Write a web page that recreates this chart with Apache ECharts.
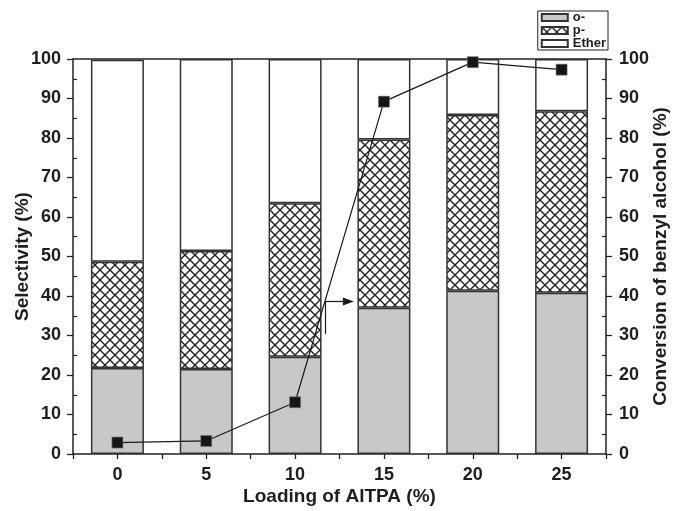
<!DOCTYPE html>
<html>
<head>
<meta charset="utf-8">
<script src="https://cdn.jsdelivr.net/npm/echarts@6/dist/echarts.min.js"></script>
<style>
  html, body { margin: 0; padding: 0; background: #fff; }
  #chart { width: 674px; height: 511px; }
</style>
</head>
<body>
<div id="chart"></div>
<script>
// selectivity by AlTPA loading, stacked o- / p- / ether, plus conversion on right axis
const loading = [0, 5, 10, 15, 20, 25];
const orthoSel = [21.8, 21.5, 24.6, 37.0, 41.3, 40.8];
const paraSel = [26.9, 29.9, 38.9, 42.6, 44.5, 46.0];
const etherSel = [51.1, 48.6, 36.5, 20.4, 14.2, 13.2];
const conversion = [2.9, 3.3, 13.1, 89.2, 99.2, 97.3];

const FONT = '"Liberation Sans", Arial, sans-serif';
const INK = '#1e1e1e';

function hatchCanvas() {
  const s = 10;
  const c = document.createElement('canvas');
  c.width = s;
  c.height = s;
  const g = c.getContext('2d');
  g.fillStyle = '#fff';
  g.fillRect(0, 0, s, s);
  g.strokeStyle = '#222';
  g.lineWidth = 1.4;
  g.beginPath();
  g.moveTo(-1, -1); g.lineTo(s + 1, s + 1);
  g.moveTo(s + 1, -1); g.lineTo(-1, s + 1);
  g.stroke();
  return c;
}

const barBase = {
  type: 'bar',
  stack: 'sel',
  xAxisIndex: 2,
  yAxisIndex: 0,
  barWidth: 53,
  emphasis: { disabled: true },
};

const chart = echarts.init(document.getElementById('chart'), null, { renderer: 'canvas' });

const tickLabel = { fontFamily: FONT, fontWeight: 'bold', fontSize: 18, color: INK };
const nameStyle = { fontFamily: FONT, fontWeight: 'bold', fontSize: 19, color: INK };
const line = { show: true, onZero: false, lineStyle: { color: '#222', width: 1.5 } };
const tick = { show: true, length: 6, lineStyle: { color: '#222', width: 1.3 } };
const innerMinor = (pos) => ({
  type: 'value',
  position: pos,
  min: 0,
  max: 100,
  interval: 10,
  axisLine: { show: false, onZero: false },
  axisTick: { show: false, inside: true },
  minorTick: { show: true, splitNumber: 2, length: 4, lineStyle: { color: '#222', width: 1.2 } },
  axisLabel: { show: false },
  splitLine: { show: false },
});

chart.setOption({
  animation: false,
  backgroundColor: '#fff',
  grid: { left: 73, right: 68, top: 59, bottom: 57, outerBoundsMode: 'none', containLabel: false },
  legend: {
    data: ['o-', 'p-', 'Ether'],
    orient: 'vertical',
    right: 66,
    top: 11,
    icon: 'rect',
    itemWidth: 26,
    itemHeight: 7,
    itemGap: 0,
    padding: [0, 2, 0, 3],
    borderColor: '#222',
    borderWidth: 1,
    textStyle: { fontFamily: FONT, fontWeight: 'bold', fontSize: 13, lineHeight: 12, color: INK },
  },
  xAxis: [
    {
      type: 'value',
      min: -2.5,
      max: 27.5,
      interval: 2.5,
      name: 'Loading of AlTPA (%)',
      nameLocation: 'middle',
      nameMoveOverlap: false,
      nameGap: 33,
      nameTextStyle: nameStyle,
      axisLine: line,
      axisTick: { ...tick, length: 5 },
      axisLabel: {
        ...tickLabel,
        margin: 12,
        formatter: (v) => (v >= 0 && v % 5 === 0 ? String(v) : ''),
      },
      splitLine: { show: false },
    },
    {
      type: 'value',
      position: 'top',
      min: -2.5,
      max: 27.5,
      axisLine: line,
      axisTick: { show: false },
      axisLabel: { show: false },
      splitLine: { show: false },
    },
    {
      type: 'category',
      show: false,
      position: 'bottom',
      data: loading.map(String),
      boundaryGap: true,
    },
  ],
  yAxis: [
    {
      type: 'value',
      min: 0,
      max: 100,
      interval: 10,
      name: 'Selectivity (%)',
      nameLocation: 'middle',
      nameMoveOverlap: false,
      nameGap: 41,
      nameTextStyle: nameStyle,
      axisLine: line,
      axisTick: tick,
      axisLabel: { ...tickLabel, margin: 12 },
      splitLine: { show: false },
    },
    {
      type: 'value',
      position: 'right',
      min: 0,
      max: 100,
      interval: 10,
      name: 'Conversion of benzyl alcohol (%)',
      nameLocation: 'middle',
      nameMoveOverlap: false,
      nameGap: 45,
      nameRotate: 90,
      nameTextStyle: nameStyle,
      axisLine: line,
      axisTick: tick,
      axisLabel: { ...tickLabel, margin: 13 },
      splitLine: { show: false },
    },
    innerMinor('left'),
    innerMinor('right'),
  ],
  series: [
    {
      ...barBase,
      name: 'o-',
      data: orthoSel,
      itemStyle: { color: '#c8c8c8', borderColor: '#333', borderWidth: 1.5 },
    },
    {
      ...barBase,
      name: 'p-',
      data: paraSel,
      itemStyle: {
        color: { image: hatchCanvas(), repeat: 'repeat' },
        borderColor: '#333',
        borderWidth: 1.5,
      },
    },
    {
      ...barBase,
      name: 'Ether',
      data: etherSel,
      itemStyle: { color: '#fff', borderColor: '#333', borderWidth: 1.5 },
    },
    {
      type: 'line',
      name: 'Conversion',
      xAxisIndex: 0,
      yAxisIndex: 1,
      data: loading.map((x, i) => [x, conversion[i]]),
      symbol: 'rect',
      symbolSize: 11,
      z: 5,
      lineStyle: { color: '#1a1a1a', width: 1.2 },
      itemStyle: { color: '#151515', borderColor: '#777', borderWidth: 0.6 },
      emphasis: { disabled: true },
      markLine: {
        silent: true,
        symbol: 'none',
        label: { show: false },
        lineStyle: { color: '#1a1a1a', width: 1.2, type: 'solid' },
        data: [
          [{ coord: [11.7, 30.4], symbol: 'none' }, { coord: [11.7, 38.6], symbol: 'none' }],
          [{ coord: [11.7, 38.6], symbol: 'none' }, { coord: [13.0, 38.6], symbol: 'triangle', symbolSize: [8, 11], symbolRotate: -90 }],
        ],
      },
    },
  ],
});
</script>
</body>
</html>
